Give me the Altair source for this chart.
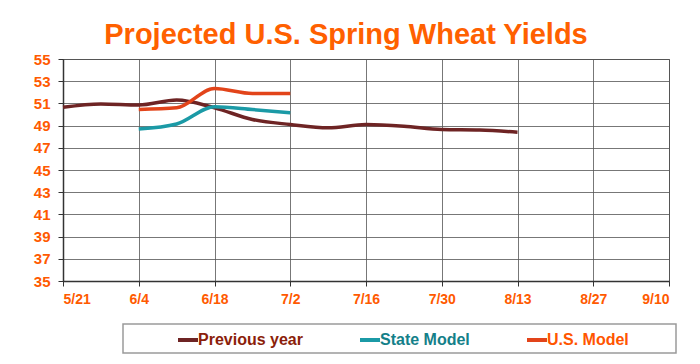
import altair as alt
import pandas as pd

# ---- data ----
prev_dates = ["5/21", "5/28", "6/4", "6/11", "6/18", "6/25", "7/2", "7/9",
              "7/16", "7/23", "7/30", "8/6", "8/13"]
prev_values = [50.65, 50.95, 50.85, 51.3, 50.6, 49.55, 49.1, 48.8,
               49.1, 48.95, 48.65, 48.6, 48.4]

state_dates = ["6/4", "6/11", "6/18", "6/25", "7/2"]
state_values = [48.7, 49.15, 50.7, 50.45, 50.15]

us_dates = ["6/4", "6/11", "6/18", "6/25", "7/2"]
us_values = [50.45, 50.6, 52.35, 51.9, 51.9]

series_names = ["Previous year", "State Model", "U.S. Model"]
series_colors = ["#6E2424", "#1B9AA6", "#E2441A"]
label_colors = ["#8B1E0A", "#148089", "#FF5500"]

x_tick_labels = ["5/21", "6/4", "6/18", "7/2", "7/16", "7/30", "8/13", "8/27", "9/10"]
y_ticks = list(range(35, 56, 2))
YEAR = 2012


def iso(md):
    m, d = md.split("/")
    return f"{YEAR}-{int(m):02d}-{int(d):02d}"


def dt(md):
    m, d = md.split("/")
    return alt.DateTime(year=YEAR, month=int(m), date=int(d), utc=True)


rows = []
for name, ds, vs in zip(series_names,
                        [prev_dates, state_dates, us_dates],
                        [prev_values, state_values, us_values]):
    for d, v in zip(ds, vs):
        rows.append({"series": name, "date": iso(d), "value": v})
df = pd.DataFrame(rows)

ORANGE = "#FF5A00"
FONT = "Liberation Sans"

label_expr = " : ".join(
    [f"datum.label === '{n}' ? '{c}'" for n, c in zip(series_names[:-1], label_colors[:-1])]
    + [f"'{label_colors[-1]}'"]
)

frame = alt.Chart(pd.DataFrame({"k": [0]})).mark_rect(
    fill="white", stroke="#9A9A9A", strokeWidth=1.5
).encode(
    x=alt.value(60), x2=alt.value(613), y=alt.value(265), y2=alt.value(294)
)

lines = alt.Chart(df).mark_line(strokeWidth=3.5, interpolate="monotone").encode(
    x=alt.X(
        "date:T",
        scale=alt.Scale(type="utc", domain=[dt(x_tick_labels[0]), dt(x_tick_labels[-1])]),
        axis=alt.Axis(
            title=None,
            values=[dt(t) for t in x_tick_labels],
            labelExpr="utcFormat(datum.value, '%-m/%-d')",
            labelPadding=6,
            labelFontSize=14,
            tickSize=5,
        ),
    ),
    y=alt.Y(
        "value:Q",
        scale=alt.Scale(domain=[35, 55], nice=False, zero=False),
        axis=alt.Axis(title=None, values=y_ticks, labelPadding=8, labelFontSize=15, tickSize=5),
    ),
    color=alt.Color(
        "series:N",
        scale=alt.Scale(domain=series_names, range=series_colors),
        sort=series_names,
        legend=alt.Legend(
            title=None,
            orient="none",
            direction="horizontal",
            legendX=113,
            legendY=269,
            symbolType="stroke",
            symbolStrokeWidth=4,
            symbolSize=400,
            labelFont=FONT,
            labelFontSize=16,
            labelFontWeight="bold",
            labelColor={"expr": label_expr},
            labelOffset={"expr": "-2"},
            columnPadding=49,
            padding=0,
        ),
    ),
    order=alt.value(0),
)

chart = (
    alt.layer(frame, lines)
    .properties(
        width=606,
        height=222,
        background="white",
        padding={"left": 55, "top": 51, "right": 23, "bottom": 75},
        autosize=alt.AutoSizeParams(type="none"),
        title=alt.TitleParams(
            "Projected U.S. Spring Wheat Yields",
            font=FONT,
            fontSize=29,
            fontWeight="bold",
            color="#FF6000",
            anchor="middle",
            dx=-20,
            dy=35,
            baseline="alphabetic",
            offset=14,
        ),
    )
    .configure_view(stroke="#555555", strokeWidth=1)
    .configure_axis(
        labelFont=FONT,
        labelFontWeight="bold",
        labelColor=ORANGE,
        grid=True,
        gridColor="#555555",
        gridOpacity=0.8,
        gridWidth=1,
        domainColor="#333333",
        domainWidth=1.5,
        tickColor="#333333",
    )
)

chart.save("out.html", embed_options={"renderer": "svg", "actions": False})
